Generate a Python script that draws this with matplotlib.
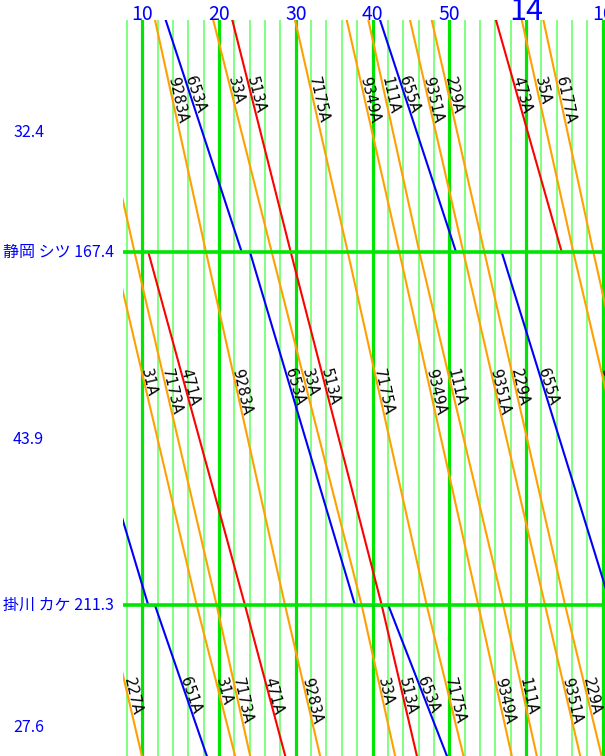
import matplotlib
matplotlib.use("Agg")
import matplotlib.pyplot as plt
import numpy as np

# ---------------- data ----------------
STATIONS = ["新富士", "静岡", "掛川", "浜松"]
CODES = ["シフ", "シツ", "カケ", "ハマ"]
KM = [135.0, 167.4, 211.3, 238.9]

TICK_MIN = [10, 20, 30, 40, 50, 60, 70]
TICK_LABELS = ["10", "20", "30", "40", "50", "14", "10"]

TRAINS = ["7173A", "31A", "227A", "471A", "651A", "9283A", "653A", "33A", "513A",
          "7175A", "9349A", "111A", "655A", "9351A", "229A", "473A", "35A", "6177A"]
KIND = ["N", "N", "N", "H", "K", "N", "K", "N", "H",
        "N", "N", "N", "K", "N", "N", "H", "N", "N"]
# times in minutes after 13:00
SHINFUJI = [1.33, -1.56, -13.2, -3.6, -15.1, 10.83, 11.82, 18.30, 20.78,
            29.05, 35.79, 38.63, 39.75, 44.02, 46.86, 55.02, 58.61, 61.45]
SHIZUOKA_ARR = [8.98, 6.26, -5.39, 6.0, -4.0, 18.30, 22.95, 26.86, 29.34,
                36.77, 43.49, 46.10, 50.88, 51.83, 54.57, 64.65, 66.16, 68.77]
SHIZUOKA_DEP = [8.98, 6.26, -5.39, 10.78, -3.02, 18.30, 24.03, 26.86, 29.34,
                36.77, 43.49, 46.10, 56.83, 51.83, 54.57, 71.0, 66.16, 68.77]
KAKEGAWA_ARR = [19.69, 17.09, 5.35, 23.38, 10.78, 28.60, 37.72, 38.59, 41.20,
                47.06, 53.78, 57.04, 71.07, 62.48, 65.10, 83.4, 76.98, 79.12]
KAKEGAWA_DEP = [19.69, 17.09, 5.35, 23.38, 11.65, 28.60, 42.06, 38.59, 41.20,
                47.06, 53.78, 57.04, 75.0, 62.48, 65.10, 83.4, 76.98, 79.12]
HAMAMATSU = [26.12, 24.46, 12.12, 31.11, 21.61, 35.33, 53.31, 45.01, 47.95,
             54.12, 60.21, 63.47, 86.3, 69.23, 72.10, 91.1, 83.78, 85.6]

COLORS = {"N": "#ffa000", "H": "#ff0000", "K": "#0000ff"}

# ---------------- figure ----------------
W, H = 605, 756
fig = plt.figure(figsize=(W / 100, H / 100), dpi=100)
ax = fig.add_axes([123 / W, 0, (W - 123) / W, (H - 20) / H])
XMIN, XMAX = 7.485, 70.29
ax.set_xlim(XMIN, XMAX)
ax.set_ylim(230.03, 138.57)
ax.axis("off")

BOLD = "#00e600"
LIGHT = "#80ff80"

for m in range(8, 72, 2):
    if m % 10 == 0:
        ax.axvline(m, color=BOLD, lw=2.3, zorder=1)
    else:
        ax.axvline(m, color=LIGHT, lw=1.4, zorder=1)

for k in KM:
    ax.axhline(k, color=BOLD, lw=2.6, zorder=4)

fig.canvas.draw()

label_frac = 1.0 / 3.0
for i, name in enumerate(TRAINS):
    col = COLORS[KIND[i]]
    ts = [SHINFUJI[i], SHIZUOKA_ARR[i], SHIZUOKA_DEP[i], KAKEGAWA_ARR[i],
          KAKEGAWA_DEP[i], HAMAMATSU[i]]
    ks = [KM[0], KM[1], KM[1], KM[2], KM[2], KM[3]]
    ax.plot(ts, ks, color=col, lw=1.5, zorder=3, solid_capstyle="butt")
    segs = [(ts[0], ks[0], ts[1], ks[1]),
            (ts[2], ks[2], ts[3], ks[3]),
            (ts[4], ks[4], ts[5], ks[5])]
    for (t0, k0, t1, k1) in segs:
        kl = k0 + (k1 - k0) * label_frac
        tl = t0 + (t1 - t0) * label_frac
        if not (XMIN - 0.05 <= tl <= XMAX):
            continue
        p0 = ax.transData.transform((t0, k0))
        p1 = ax.transData.transform((t1, k1))
        ang = np.degrees(np.arctan2(p1[1] - p0[1], p1[0] - p0[0]))
        ax.text(tl, kl, name, rotation=ang, rotation_mode="anchor",
                ha="left", va="baseline", fontsize=10.5, color="black",
                family="DejaVu Sans", zorder=5, clip_on=True)

# x labels (time)
ymin, ymax = ax.get_ylim()
for m, lab in zip(TICK_MIN, TICK_LABELS):
    fs = 22 if lab == "14" else 14
    ax.text(m, ymax, lab, ha="center", va="baseline", fontsize=fs,
            color="#0000ff", family=["Noto Sans CJK JP", "DejaVu Sans"],
            clip_on=False)

# y labels (stations and intervals)
for name, code, k in zip(STATIONS, CODES, KM):
    if ymax <= k <= ymin:
        ax.annotate(f"{name} {code} {k:.1f}", xy=(114 / W, k),
                    xycoords=("figure fraction", "data"),
                    ha="right", va="center", fontsize=11.5, color="#0000ff",
                    family=["Noto Sans CJK JP", "DejaVu Sans"],
                    annotation_clip=False)
for a, b in zip(KM[:-1], KM[1:]):
    mid = (a + b) / 2
    ax.annotate(f"{b - a:.1f}", xy=(13 / W, mid),
                xycoords=("figure fraction", "data"),
                xytext=(0, -8), textcoords="offset points",
                ha="left", va="center", fontsize=11.5, color="#0000ff",
                family=["Noto Sans CJK JP", "DejaVu Sans"],
                annotation_clip=False)

fig.savefig("out.png", dpi=100)
